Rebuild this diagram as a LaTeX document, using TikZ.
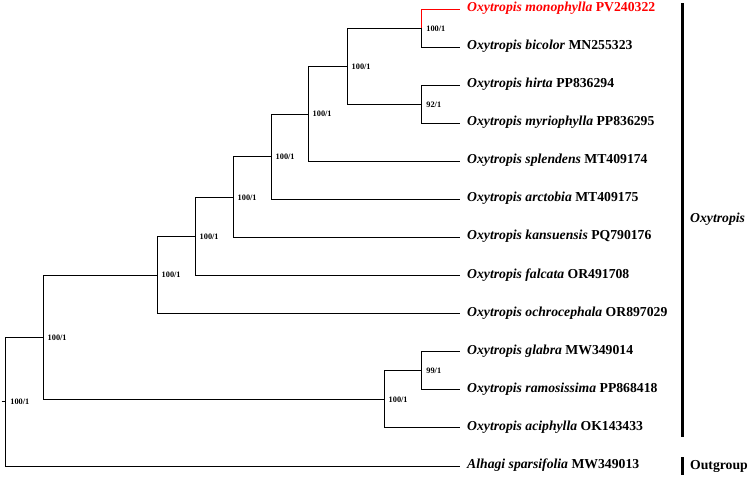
\documentclass[tikz,border=0pt]{standalone}
\usepackage{fontspec}
\setmainfont{Liberation Serif}

\tikzset{
  taxon/.style={anchor=west,inner xsep=7pt,inner ysep=0pt,text height=8pt,text depth=3.5pt,
    font=\fontsize{13.7}{15}\selectfont\bfseries},
  support/.style={anchor=west,inner sep=0pt,xshift=4.5pt,font=\fontsize{8.3}{9}\selectfont\bfseries},
  branch/.style={line width=1pt},
  cladebar/.style={line width=3pt},
  cladename/.style={anchor=west,inner sep=0pt,font=\fontsize{13.7}{15}\selectfont\bfseries},
}

\begin{document}
\begin{tikzpicture}[x=1pt,y=-1pt]
  \useasboundingbox (0,0) rectangle (750,477);
  % tips
  \node[taxon,text=red] (mono) at (460,9.5) {\textit{Oxytropis monophylla} PV240322};
  \node[taxon] (bico) at (460,47.5) {\textit{Oxytropis bicolor} MN255323};
  \node[taxon] (hirt) at (460,85.6) {\textit{Oxytropis hirta} PP836294};
  \node[taxon] (myri) at (460,123.6) {\textit{Oxytropis myriophylla} PP836295};
  \node[taxon] (sple) at (460,161.7) {\textit{Oxytropis splendens} MT409174};
  \node[taxon] (arct) at (460,199.7) {\textit{Oxytropis arctobia} MT409175};
  \node[taxon] (kans) at (460,237.7) {\textit{Oxytropis kansuensis} PQ790176};
  \node[taxon] (falc) at (460,275.8) {\textit{Oxytropis falcata} OR491708};
  \node[taxon] (ochr) at (460,313.8) {\textit{Oxytropis ochrocephala} OR897029};
  \node[taxon] (glab) at (460,351.9) {\textit{Oxytropis glabra} MW349014};
  \node[taxon] (ramo) at (460,389.9) {\textit{Oxytropis ramosissima} PP868418};
  \node[taxon] (acip) at (460,427.9) {\textit{Oxytropis aciphylla} OK143433};
  \node[taxon] (alha) at (460,466) {\textit{Alhagi sparsifolia} MW349013};
  % internal nodes
  \coordinate (nA) at (421.7,28.5);
  \coordinate (nB) at (421.7,104.6);
  \coordinate (nC) at (347,66.5);
  \coordinate (nD) at (308,114.1);
  \coordinate (nE) at (271,156.9);
  \coordinate (nF) at (233,197.3);
  \coordinate (nG) at (195,236.5);
  \coordinate (nH) at (157,275.2);
  \coordinate (nI) at (421.7,370.9);
  \coordinate (nJ) at (384,399.4);
  \coordinate (nK) at (43,337.3);
  \coordinate (root) at (5.7,401.6);
  \coordinate (stub) at (1.5,401.6);
  % branches
  \draw[branch,red] (nA) |- (mono.west);
  \draw[branch] (nA) |- (bico.west);
  \draw[branch] (nB) |- (hirt.west);
  \draw[branch] (nB) |- (myri.west);
  \draw[branch] (nC) |- (nA);
  \draw[branch] (nC) |- (nB);
  \draw[branch] (nD) |- (nC);
  \draw[branch] (nD) |- (sple.west);
  \draw[branch] (nE) |- (nD);
  \draw[branch] (nE) |- (arct.west);
  \draw[branch] (nF) |- (nE);
  \draw[branch] (nF) |- (kans.west);
  \draw[branch] (nG) |- (nF);
  \draw[branch] (nG) |- (falc.west);
  \draw[branch] (nH) |- (nG);
  \draw[branch] (nH) |- (ochr.west);
  \draw[branch] (nI) |- (glab.west);
  \draw[branch] (nI) |- (ramo.west);
  \draw[branch] (nJ) |- (nI);
  \draw[branch] (nJ) |- (acip.west);
  \draw[branch] (nK) |- (nH);
  \draw[branch] (nK) |- (nJ);
  \draw[branch] (root) |- (nK);
  \draw[branch] (root) |- (alha.west);
  \draw[branch] (stub) -- (root);
  % support values
  \node[support] (sA) at (nA) {100/1};
  \node[support] (sB) at (nB) {92/1};
  \node[support] (sC) at (nC) {100/1};
  \node[support] (sD) at (nD) {100/1};
  \node[support] (sE) at (nE) {100/1};
  \node[support] (sF) at (nF) {100/1};
  \node[support] (sG) at (nG) {100/1};
  \node[support] (sH) at (nH) {100/1};
  \node[support] (sI) at (nI) {99/1};
  \node[support] (sJ) at (nJ) {100/1};
  \node[support] (sK) at (nK) {100/1};
  \node[support] (sR) at (root) {100/1};
  % clades
  \draw[cladebar] (682,3) -- (682,437);
  \node[cladename] (oxy) at (690,219) {\textit{Oxytropis}};
  \draw[cladebar] (682,457) -- (682,475);
  \node[cladename] (outg) at (690,466) {Outgroup};
\end{tikzpicture}
\end{document}
